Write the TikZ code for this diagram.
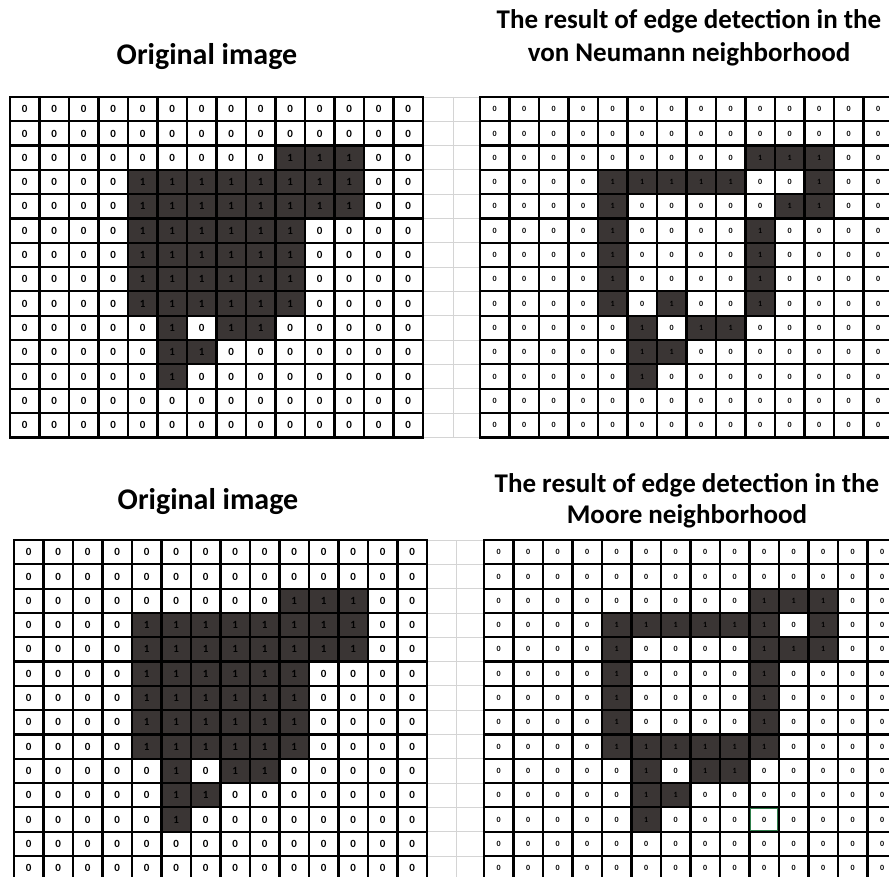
\documentclass[tikz,border=0pt]{standalone}
\usepackage{fontspec}
\setmainfont{Carlito}
\usepackage{tikz}
\usetikzlibrary{positioning}
\definecolor{pixelon}{HTML}{3A3534}
\definecolor{sheetline}{HTML}{D4D4D4}
\definecolor{selgreen}{HTML}{2E7D4A}
\newcommand{\cellw}{29.5}
\newcommand{\cellh}{24.3}

% one 14x14 grid: #1 name, #2/#3 top left corner, #4 digit font,
% #5 rows of ones as row/{cols}
\newcommand{\pixelgrid}[5]{%
  \foreach \r in {0,...,13} {
    \foreach \c in {0,...,13} {
      \node[zerocell, font=#4] (#1-\r-\c)
        at ({#2+(\c+0.5)*\cellw}, {#3+(\r+0.5)*\cellh}) {0};
    }
  }
  \foreach \r/\cols in {#5} {
    \foreach \c in \cols {
      \node[onecell, font=#4] (#1-on-\r-\c)
        at ({#2+(\c+0.5)*\cellw}, {#3+(\r+0.5)*\cellh}) {1};
    }
  }
  % cell borders
  \foreach \i in {0,...,14} {
    \draw[cellrule] ({#2+\i*\cellw}, #3) -- ++(0, {14*\cellh});
    \draw[cellrule] (#2, {#3+\i*\cellh}) -- ++({14*\cellw}, 0);
  }
  \draw[outerrule] (#2, #3) rectangle ++({14*\cellw}, {14*\cellh});
}

\begin{document}
\begin{tikzpicture}[
  x=1pt, y=-1pt,
  zerocell/.style={
    minimum width=\cellw pt, minimum height=\cellh pt,
    inner sep=0pt, fill=white, text=black
  },
  onecell/.style={zerocell, fill=pixelon, text=black},
  cellrule/.style={line width=2.2pt, black},
  outerrule/.style={line width=2.6pt, black},
  sheetrule/.style={line width=0.8pt, sheetline},
  titlefont/.style={font=\fontsize{30}{30}\selectfont\bfseries},
  subfont/.style={font=\fontsize{27}{33}\selectfont\bfseries, align=center}
]

\useasboundingbox (0,0) rectangle (889,877);
\clip (0,0) rectangle (889,877);
\fill[white] (0,0) rectangle (889,877);

% Spreadsheet lines in the gaps
\foreach \i in {0,...,14} {
  \draw[sheetrule] (423, {97+\i*\cellh}) -- (480, {97+\i*\cellh});
  \draw[sheetrule] (427, {540+\i*\cellh}) -- (484, {540+\i*\cellh});
}
\draw[sheetrule] (453, 97) -- (453, 437);
\draw[sheetrule] (456, 540) -- (456, 877);

% Titles
\node[titlefont] (t-orig-a) at (207, 57) {Original image};
\node[subfont] (t-vn) at (689, 38)
  {The result of edge detection in the\\von Neumann neighborhood};
\node[titlefont] (t-orig-b) at (208, 502) {Original image};
\node[subfont, font=\fontsize{27}{31}\selectfont\bfseries] (t-moore) at (687, 501)
  {The result of edge detection in the\\Moore neighborhood};

% Original image (top)
\pixelgrid{ga}{10}{97}{\fontsize{11}{11}\selectfont\bfseries}
  {2/{9,10,11}, 3/{4,...,11}, 4/{4,...,11}, 5/{4,...,9}, 6/{4,...,9},
   7/{4,...,9}, 8/{4,...,9}, 9/{5,7,8}, 10/{5,6}, 11/{5}}

% Edges, von Neumann neighbourhood
\pixelgrid{gb}{480}{97}{\fontsize{8}{8}\selectfont\bfseries}
  {2/{9,10,11}, 3/{4,5,6,7,8,11}, 4/{4,10,11}, 5/{4,9}, 6/{4,9},
   7/{4,9}, 8/{4,6,9}, 9/{5,7,8}, 10/{5,6}, 11/{5}}

% Original image (bottom)
\pixelgrid{gc}{14}{540}{\fontsize{11}{11}\selectfont\bfseries}
  {2/{9,10,11}, 3/{4,...,11}, 4/{4,...,11}, 5/{4,...,9}, 6/{4,...,9},
   7/{4,...,9}, 8/{4,...,9}, 9/{5,7,8}, 10/{5,6}, 11/{5}}

% Edges, Moore neighbourhood
\pixelgrid{gd}{484}{540}{\fontsize{8}{8}\selectfont\bfseries}
  {2/{9,10,11}, 3/{4,5,6,7,8,9,11}, 4/{4,9,10,11}, 5/{4,9}, 6/{4,9},
   7/{4,9}, 8/{4,5,6,7,8,9}, 9/{5,7,8}, 10/{5,6}, 11/{5}}

% Selected cell
\draw[selgreen, line width=1pt]
  ([xshift=1.4pt, yshift=-1.4pt]gd-11-9.north west)
  rectangle ([xshift=-1.4pt, yshift=1.4pt]gd-11-9.south east);

\end{tikzpicture}
\end{document}
